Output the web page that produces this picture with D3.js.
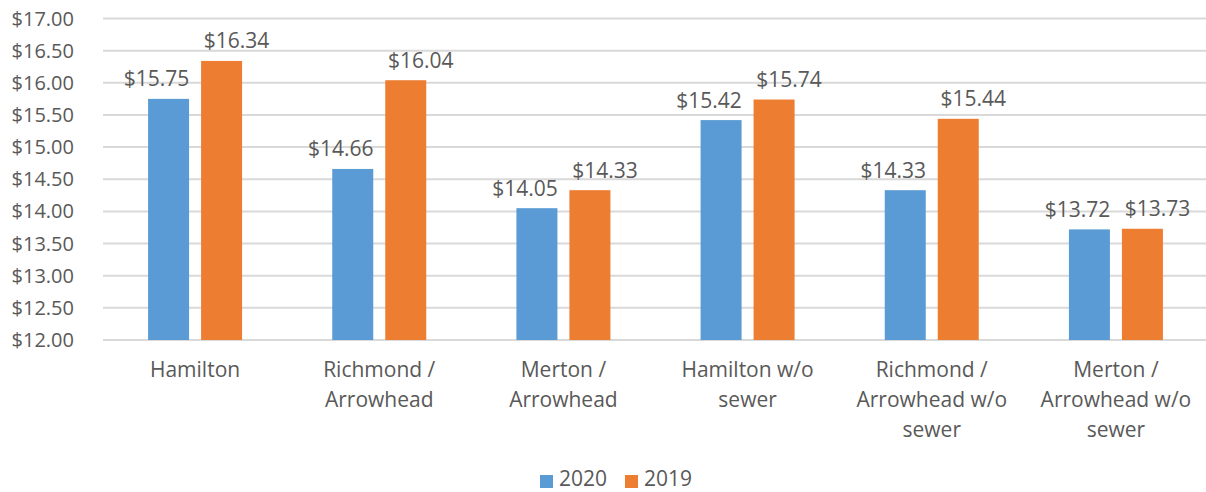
<!DOCTYPE html>
<html>
<head>
  <title>Cost comparison 2020 vs 2019</title>
  <script src="https://cdnjs.cloudflare.com/ajax/libs/d3/7.8.5/d3.min.js"></script>
</head>
<body style="margin:0;background:#fff">
<svg width="1206" height="492" id="chart"></svg>
<script>
// values
const categories = [
  ["Hamilton"],
  ["Richmond /", "Arrowhead"],
  ["Merton /", "Arrowhead"],
  ["Hamilton w/o", "sewer"],
  ["Richmond /", "Arrowhead w/o", "sewer"],
  ["Merton /", "Arrowhead w/o", "sewer"]
];
const seriesNames = ["2020", "2019"];
const values2020 = [15.75, 14.66, 14.05, 15.42, 14.33, 13.72];
const values2019 = [16.34, 16.04, 14.33, 15.74, 15.44, 13.73];
const yTicks = [12, 12.5, 13, 13.5, 14, 14.5, 15, 15.5, 16, 16.5, 17];
const colors = ["#5b9bd5", "#ed7d31"];

const font = "'Open Sans', sans-serif";
const textColor = "#595959";
const fmt = d => "$" + d3.format(".2f")(d);

const svg = d3.select("#chart");
const plotLeft = 103, plotRight = 1208, plotTop = 18.5, plotBottom = 340;

let x = d3.scaleBand()
  .domain(d3.range(categories.length))
  .range([plotLeft, plotRight]);

let y = d3.scaleLinear()
  .domain([12, 17])
  .range([plotBottom, plotTop]);

// gridlines
svg.append("g").selectAll("line")
  .data(yTicks)
  .join("line")
  .attr("x1", plotLeft).attr("x2", plotRight)
  .attr("y1", d => y(d)).attr("y2", d => y(d))
  .attr("stroke", "#d9d9d9")
  .attr("stroke-width", 2);

// y tick labels
svg.append("g").selectAll("text")
  .data(yTicks)
  .join("text")
  .attr("x", 74)
  .attr("y", d => y(d))
  .attr("dy", "0.35em")
  .attr("text-anchor", "end")
  .attr("font-family", font)
  .attr("font-size", 20)
  .attr("fill", textColor)
  .text(fmt);

// bars + value labels (labels sit a little outward from bar centre, like the original)
const barW = 41, gap = 12;
const series = [values2020, values2019];
const labelShift = [-12, 15];
series.forEach(function(vals, s) {
  const offset = s === 0 ? -(gap / 2 + barW) : gap / 2;
  const g = svg.append("g");
  g.selectAll("rect")
    .data(vals)
    .join("rect")
    .attr("x", (d, i) => x(i) + x.bandwidth() / 2 + offset)
    .attr("width", barW)
    .attr("y", d => y(d))
    .attr("height", d => y(12) - y(d))
    .attr("fill", colors[s]);
  g.selectAll("text")
    .data(vals)
    .join("text")
    .attr("x", (d, i) => x(i) + x.bandwidth() / 2 + offset + barW / 2 + labelShift[s])
    .attr("y", d => y(d) - 12.5)
    .attr("text-anchor", "middle")
    .attr("font-family", font)
    .attr("font-size", 21)
    .attr("fill", textColor)
    .text(fmt);
});

// category labels
const cat = svg.append("g").selectAll("text")
  .data(categories)
  .join("text")
  .attr("text-anchor", "middle")
  .attr("font-family", font)
  .attr("font-size", 21)
  .attr("fill", textColor);
cat.selectAll("tspan")
  .data((d, i) => d.map(t => ({t: t, i: i})))
  .join("tspan")
  .attr("x", d => x(d.i) + x.bandwidth() / 2)
  .attr("y", (d, j) => 377 + j * 30)
  .text(d => d.t);

// legend
const legendX = [540, 625];
const legend = svg.append("g").selectAll("g")
  .data(seriesNames)
  .join("g");
legend.append("rect")
  .attr("x", (d, i) => legendX[i])
  .attr("y", 475)
  .attr("width", 13).attr("height", 13)
  .attr("fill", (d, i) => colors[i]);
legend.append("text")
  .attr("x", (d, i) => legendX[i] + 19)
  .attr("y", 486)
  .attr("font-family", font)
  .attr("font-size", 21)
  .attr("fill", textColor)
  .text(d => d);
</script>
</body>
</html>
